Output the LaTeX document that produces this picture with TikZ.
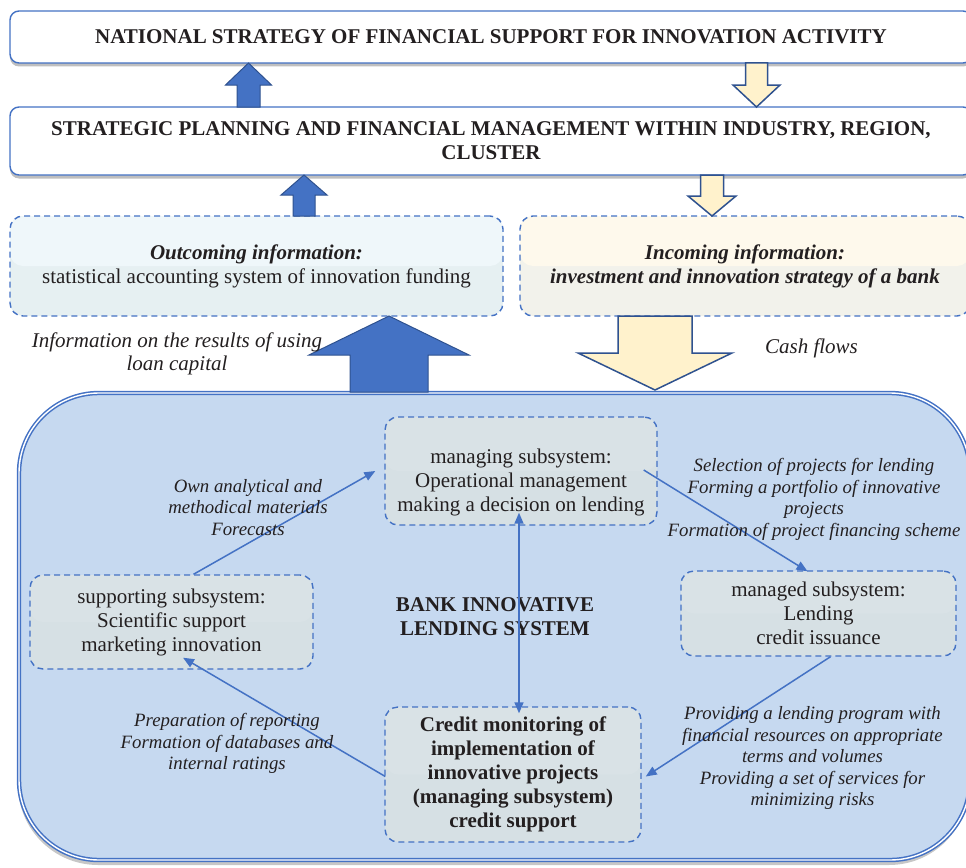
\documentclass[tikz,border=0pt]{standalone}
\usepackage{fontspec}
\setmainfont{Liberation Serif}
\usetikzlibrary{calc,arrows.meta,shadows}

\definecolor{linkblue}{HTML}{4472C4}
\definecolor{darkblue}{HTML}{2F528F}
\definecolor{cream}{HTML}{FFF2CC}
\definecolor{sysfill}{HTML}{C6D9F0}
\definecolor{subfill}{HTML}{D6E0E4}
\definecolor{subtop}{HTML}{D9E2E6}
\definecolor{outtop}{HTML}{EFF7FA}
\definecolor{outbot}{HTML}{E6F0F2}
\definecolor{intop}{HTML}{FEF9EC}
\definecolor{inbot}{HTML}{F2F2EB}
\definecolor{ink}{HTML}{231F20}

% block arrow: style, base, tip, half shaft width, half head width, head length
\newcommand{\blockarrow}[6]{%
  \coordinate (ba-h) at ($(#3)!#6!(#2)$);
  \draw[#1] ($(#2)!#4!90:(#3)$) -- ($(ba-h)!#4!90:(#3)$) -- ($(ba-h)!#5!90:(#3)$)
    -- (#3) -- ($(ba-h)!#5!-90:(#3)$) -- ($(ba-h)!#4!-90:(#3)$)
    -- ($(#2)!#4!-90:(#3)$) -- cycle;}

\tikzset{
  every node/.style={text=ink, inner sep=0pt},
  bigtxt/.style={font=\fontsize{21}{24}\selectfont, align=center},
  boldtxt/.style={font=\bfseries\fontsize{21}{24}\selectfont, align=center},
  note/.style={font=\itshape\fontsize{18.8}{21.5}\selectfont, align=center},
  topbox/.style={draw=linkblue, line width=1.4pt, fill=white, rounded corners=9pt,
    drop shadow={shadow xshift=0pt, shadow yshift=-3.5pt, fill=black!25, opacity=1}},
  infobox/.style={draw=linkblue, dashed, dash pattern=on 6pt off 4pt,
    line width=1.4pt, rounded corners=13pt},
  subbox/.style={infobox, fill=subfill,
    path picture={\fill[subtop] (path picture bounding box.north west) rectangle (path picture bounding box.east);}},
  conn/.style={draw=linkblue, line width=1.5pt},
  upblock/.style={fill=linkblue, draw=darkblue, line width=1pt, line join=miter},
  downblock/.style={fill=cream, draw=darkblue, line width=1.5pt, line join=miter},
}

\begin{document}
\begin{tikzpicture}[x=1pt, y=-1pt, >={Triangle[length=11pt,width=9pt]}]
\useasboundingbox (0,0) rectangle (966,867);
\clip (0,0) rectangle (966,867);

% upper level boxes
\node[topbox, boldtxt, minimum width=962, minimum height=52] (nat) at (491,37)
  {NATIONAL STRATEGY OF FINANCIAL SUPPORT FOR INNOVATION ACTIVITY};
\node[topbox, boldtxt, minimum width=962, minimum height=68] (plan) at (491,141)
  {STRATEGIC PLANNING AND FINANCIAL MANAGEMENT WITHIN INDUSTRY, REGION,\\ CLUSTER};

% information boxes
\node[infobox, bigtxt, fill=outbot, minimum width=493, minimum height=100,
      path picture={\fill[outtop] (path picture bounding box.north west) rectangle (path picture bounding box.east);}]
  (outc) at (256.5,266)
  {\textbf{\textit{Outcoming information:}}\\ statistical accounting system of innovation funding};
\node[infobox, boldtxt, font=\bfseries\itshape\fontsize{21}{24}\selectfont, fill=inbot,
      minimum width=450, minimum height=100,
      path picture={\fill[intop] (path picture bounding box.north west) rectangle (path picture bounding box.east);}]
  (inc) at (745,266)
  {Incoming information:\\ investment and innovation strategy of a bank};

% bank lending system container
\node[draw=linkblue, line width=1.5pt, double=white, double distance=1.4pt,
      fill=sysfill, rounded corners=80pt, minimum width=951, minimum height=467,
      drop shadow={shadow xshift=-1pt, shadow yshift=-5pt, fill=black!22, opacity=1}]
  (sys) at (494.5,626.5) {};

% block arrows between levels
\coordinate (ua1b) at (248.5,107); \coordinate (ua1t) at (248.5,63);
\coordinate (da1b) at (756.5,63);  \coordinate (da1t) at (756.5,107);
\coordinate (ua2b) at (304,216);   \coordinate (ua2t) at (304,175);
\coordinate (da2b) at (712,175);   \coordinate (da2t) at (712,216);
\coordinate (ua3b) at (389,392);   \coordinate (ua3t) at (389,316);
\coordinate (da3b) at (655,316);   \coordinate (da3t) at (655,390);
\blockarrow{upblock}{ua1b}{ua1t}{11.5pt}{23pt}{22pt}
\blockarrow{downblock}{da1b}{da1t}{11pt}{23.5pt}{22pt}
\blockarrow{upblock}{ua2b}{ua2t}{11pt}{23pt}{20pt}
\blockarrow{downblock}{da2b}{da2t}{11.5pt}{24pt}{20pt}
\blockarrow{upblock}{ua3b}{ua3t}{39pt}{80pt}{39pt}
\blockarrow{downblock}{da3b}{da3t}{37pt}{77pt}{37pt}

\node[font=\itshape\fontsize{21}{23}\selectfont, align=center] (lbl-info) at (177,353.5)
  {Information on the results of using\\ loan capital};
\node[font=\itshape\fontsize{21}{23}\selectfont] (lbl-cash) at (811.5,348) {Cash flows};

% subsystems
\node[subbox, minimum width=272, minimum height=108] (manag) at (521,471) {};
\node[bigtxt] (manag-txt) at (521,482)
  {managing subsystem:\\ Operational management\\ making a decision on lending};
\node[subbox, bigtxt, minimum width=283, minimum height=94] (supp) at (171.5,622)
  {supporting subsystem:\\ Scientific support\\ marketing innovation};
\node[subbox, bigtxt, minimum width=275, minimum height=85] (mgd) at (818.5,613.5)
  {managed subsystem:\\ Lending\\ credit issuance};
\node[subbox, boldtxt, minimum width=256, minimum height=135] (cred) at (513,774.5)
  {Credit monitoring of\\ implementation of\\ innovative projects\\ (managing subsystem)\\ credit support};

\node[boldtxt] (sys-title) at (495,616.5) {BANK INNOVATIVE\\ LENDING SYSTEM};

% flows inside the system
\draw[conn, ->] ($(supp.north)+(22,0)$) -- ($(manag.west)+(-9,0)$);
\draw[conn, ->] ($(manag.east)+(-14,-1)$) -- ($(mgd.north)+(-11,1)$);
\draw[conn, <->] ($(manag.south)+(-2,-13)$) -- ($(cred.north)+(6,7)$);
\draw[conn, ->] ($(mgd.south)+(12,0)$) -- ($(cred.east)+(4,2)$);
\draw[conn, ->] ($(cred.west)+(1,2)$) -- ($(supp.south)+(11.5,-12)$);

% flow descriptions
\node[note] (lbl-own) at (248,507.5)
  {Own analytical and\\ methodical materials\\ Forecasts};
\node[note] (lbl-sel) at (814,499.5)
  {Selection of projects for lending\\ Forming a portfolio of innovative\\ projects\\ Formation of project financing scheme};
\node[note] (lbl-prep) at (227,743.5)
  {Preparation of reporting\\ Formation of databases and\\ internal ratings};
\node[note] (lbl-prov) at (812.5,758)
  {Providing a lending program with\\ financial resources on appropriate\\ terms and volumes\\ Providing a set of services for\\ minimizing risks};
\end{tikzpicture}
\end{document}
